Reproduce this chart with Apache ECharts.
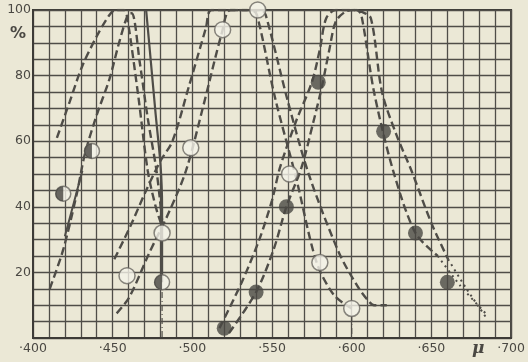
<!DOCTYPE html>
<html>
<head>
<meta charset="utf-8">
<script src="https://cdn.jsdelivr.net/npm/echarts@6/dist/echarts.min.js"></script>
<style>
  html, body { margin: 0; padding: 0; background: #ebe8d6; }
  #chart { width: 528px; height: 362px; }
</style>
</head>
<body>
<div id="chart"></div>
<script>
// wavelength (nm) / percent
const xTicks = [400, 450, 500, 550, 600, 650, 700];
const yTicks = [20, 40, 60, 80, 100];

// blue band
const blueA = [[415, 61], [423, 72], [431, 83], [440, 92], [448, 98.5], [452, 100], [457, 100], [459, 98], [466, 74], [472, 51], [477, 40], [481, 34]];
const blueB = [[410.5, 15], [419, 27], [427.5, 44], [432.5, 56], [440, 68], [448, 79], [454, 90], [459.5, 98.5], [462, 99], [467, 84], [472, 67], [477.5, 51], [481, 36]];
const blueSolid = [[471, 100], [474, 84], [477, 68], [480, 53], [481, 40], [481, 32], [481, 17]];
const blueRise = [[420, 31], [425.5, 41], [431, 51]];
const blueDrop = [[481, 14], [481, 0]];

// green band
const greenA = [[451, 24], [461, 34], [471, 45], [480, 54], [487.5, 60], [498, 77], [508.5, 94.5], [512, 100], [537, 100], [540.5, 98.5], [552, 73], [565, 49], [578, 23], [589, 13], [600, 9]];
const greenB = [[452.5, 7.5], [460.5, 12.5], [473, 26], [485, 38], [496, 51], [507, 71], [518.5, 93], [524, 100], [543, 100], [546, 98.5], [560, 72], [573, 50], [592, 26], [604, 15.5], [611, 11], [614, 10], [622, 10]];
const greenDrop = [[600, 7], [600, 0]];

// red band
const redA = [[517, 3], [531, 17], [542, 30], [550, 42], [555, 52], [565, 66], [575, 78], [580, 88], [584, 97.5], [590, 100], [603, 100], [606, 98.5], [614, 75], [626, 51], [640, 32], [654, 25]];
const redB = [[523, 1.5], [540, 14], [551, 27], [559, 40], [568.5, 52], [576, 66], [581, 76], [586, 88], [590, 96.5], [596, 99.5], [601, 100], [606, 99.5], [612, 97.5], [619, 75], [628, 62], [637.5, 51], [650, 35], [660.5, 24]];
const redTailA = [[654, 25], [668, 16], [684, 7.5]];
const redTailB = [[660.5, 24], [672, 15], [684, 6.5]];

// measured points
const openPts = [[459, 19], [481, 32], [499, 58], [519, 94], [541, 100], [561, 50], [580, 23], [600, 9]];
const halfPts = [[419, 44], [437, 57], [481, 17]];
const filledPts = [[520, 3], [540, 14], [559, 40], [579, 78], [620, 63], [640, 32], [660, 17]];

const ink = '#4f4d48';
const paper = '#ebe8d6';

function dashed(data) {
  return {
    type: 'line', data: data, symbol: 'none', smooth: 0.3, z: 3,
    lineStyle: { color: ink, width: 2.4, type: [8, 4] }
  };
}
function solid(data, width) {
  return {
    type: 'line', data: data, symbol: 'none', smooth: 0.2, z: 3,
    lineStyle: { color: ink, width: width || 2 }
  };
}
function dotted(data) {
  return {
    type: 'line', data: data, symbol: 'none', smooth: 0.2, z: 3,
    lineStyle: { color: ink, width: 2, type: [2, 4] }
  };
}
function dashDot(data) {
  return {
    type: 'line', data: data, symbol: 'none', z: 3,
    lineStyle: { color: ink, width: 1.2, type: [6, 3, 1, 3] }
  };
}

const chart = echarts.init(document.getElementById('chart'));
chart.setOption({
  backgroundColor: paper,
  animation: false,
  grid: {
    left: 33, right: 15, top: 10, bottom: 24,
    show: true, borderColor: '#3d3b37', borderWidth: 2
  },
  xAxis: {
    type: 'value', min: 400, max: 700, interval: 50,
    axisLine: { show: true, lineStyle: { color: '#3d3b37', width: 2 } },
    axisTick: { show: false },
    minorTick: { show: false, splitNumber: 5 },
    splitLine: { show: true, lineStyle: { color: ink, width: 1.3 } },
    minorSplitLine: { show: true, lineStyle: { color: ink, width: 1.3 } },
    axisLabel: {
      margin: 4, color: '#4a4843', fontSize: 12.5, fontFamily: 'DejaVu Sans',
      formatter: function (v) { return xTicks.indexOf(v) >= 0 ? '\u00b7' + v : ''; }
    }
  },
  yAxis: {
    type: 'value', min: 0, max: 100, interval: 20,
    axisLine: { show: true, lineStyle: { color: '#3d3b37', width: 2 } },
    axisTick: { show: false },
    minorTick: { show: false, splitNumber: 4 },
    splitLine: { show: true, lineStyle: { color: ink, width: 1.3 } },
    minorSplitLine: { show: true, lineStyle: { color: ink, width: 1.3 } },
    axisLabel: {
      margin: 2, color: '#4a4843', fontSize: 12.5, fontFamily: 'DejaVu Sans',
      formatter: function (v) { return yTicks.indexOf(v) >= 0 ? String(v) : ''; }
    }
  },
  graphic: [
    { type: 'text', left: 10, top: 26, style: { text: '%', font: 'bold 16px "DejaVu Sans"', fill: '#4a4843' } },
    { type: 'text', left: 472, top: 340, style: { text: '\u03bc', font: 'bold italic 17px "DejaVu Serif"', fill: '#4a4843' } }
  ],
  series: [
    dashed(blueA), dashed(blueB), solid(blueSolid, 2.2), solid(blueRise, 2), dashDot(blueDrop),
    dashed(greenA), dashed(greenB), dashDot(greenDrop),
    dashed(redA), dashed(redB), dotted(redTailA), dotted(redTailB),
    {
      type: 'scatter', data: openPts, symbol: 'circle', symbolSize: 16, clip: false, z: 5,
      itemStyle: { color: '#f4f2e8', borderColor: '#6a6862', borderWidth: 1.5 }
    },
    {
      type: 'scatter', data: halfPts, symbol: 'circle', symbolSize: 15, clip: false, z: 5,
      itemStyle: { color: '#f4f2e8', borderColor: '#6a6862', borderWidth: 1.5 }
    },
    {
      type: 'scatter', data: halfPts, symbol: 'path://M10,0 A10,10 0 0 0 10,20 Z',
      symbolSize: [8, 15], symbolOffset: [-4, 0], clip: false, z: 6,
      itemStyle: { color: '#45433f' }
    },
    {
      type: 'scatter', data: filledPts, symbol: 'circle', symbolSize: 15, clip: false, z: 5,
      itemStyle: { color: '#4a4844' }
    }
  ]
});
</script>
</body>
</html>
